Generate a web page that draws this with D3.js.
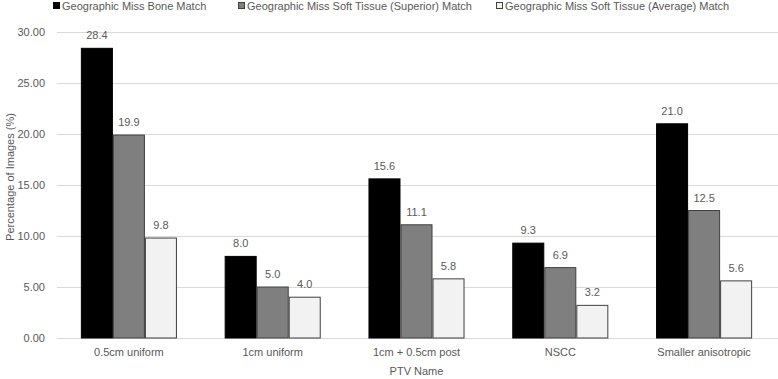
<!DOCTYPE html>
<html>
<head>
<meta charset="utf-8">
<script src="https://cdn.jsdelivr.net/npm/d3@7"></script>
<style>
  body { margin: 0; background: #fff; }
  text { font-family: "Liberation Sans", Arial, sans-serif; fill: #595959; }
</style>
</head>
<body>
<div id="chart"></div>
<script>
// Data
const categories = ["0.5cm uniform", "1cm uniform", "1cm + 0.5cm post", "NSCC", "Smaller anisotropic"];
const seriesNames = [
    "Geographic Miss Bone Match",
    "Geographic Miss Soft Tissue (Superior) Match",
    "Geographic Miss Soft Tissue (Average) Match"
];
const boneMatch = [28.4, 8.0, 15.6, 9.3, 21.0];
const superiorMatch = [19.9, 5.0, 11.1, 6.9, 12.5];
const averageMatch = [9.8, 4.0, 5.8, 3.2, 5.6];
const yTicks = [0, 5, 10, 15, 20, 25, 30];

const seriesValues = [boneMatch, superiorMatch, averageMatch];
const colors = ["#000000", "#7f7f7f", "#f2f2f2"];
const strokes = ["#000000", "#404040", "#404040"];

const width = 778, height = 379;
const margin = { top: 32, right: 2, bottom: 41, left: 57 };

const svg = d3.select("#chart").append("svg")
    .attr("width", width)
    .attr("height", height);

// Scales
const x = d3.scaleBand()
    .domain(categories)
    .range([margin.left, width - margin.right])
    .padding(0);

const groupWidth = x.bandwidth() * 0.668;
const xSub = d3.scaleBand()
    .domain(d3.range(seriesNames.length))
    .range([(x.bandwidth() - groupWidth) / 2, (x.bandwidth() + groupWidth) / 2]);

const y = d3.scaleLinear()
    .domain([0, 30])
    .range([height - margin.bottom, margin.top]);

// Gridlines
svg.append("g")
    .selectAll("line")
    .data(yTicks)
    .join("line")
    .attr("x1", margin.left)
    .attr("x2", width)
    .attr("y1", d => Math.round(y(d)) + 0.5)
    .attr("y2", d => Math.round(y(d)) + 0.5)
    .attr("stroke", "#d9d9d9")
    .attr("stroke-width", 1);

// Y axis labels
const yAxis = d3.axisLeft(y).tickValues(yTicks).tickFormat(d3.format(".2f")).tickSize(0).tickPadding(12);
const yG = svg.append("g")
    .attr("transform", `translate(${margin.left},0)`)
    .call(yAxis);
yG.select(".domain").remove();
yG.selectAll("text").attr("font-size", 11).attr("fill", "#595959")
    .attr("font-family", "Liberation Sans, Arial, sans-serif");

// X axis labels
const xAxis = d3.axisBottom(x).tickSize(0).tickPadding(10);
const xG = svg.append("g")
    .attr("transform", `translate(0,${height - margin.bottom})`)
    .call(xAxis);
xG.select(".domain").remove();
xG.selectAll("text").attr("font-size", 11).attr("fill", "#595959")
    .attr("font-family", "Liberation Sans, Arial, sans-serif");

// Bars
const rows = categories.map((c, i) => ({ cat: c, vals: seriesValues.map(s => s[i]) }));

const groups = svg.append("g")
    .selectAll("g")
    .data(rows)
    .join("g")
    .attr("transform", d => `translate(${x(d.cat)},0)`);

groups.selectAll("rect")
    .data(d => d.vals.map((v, k) => ({ v, k })))
    .join("rect")
    .attr("x", d => xSub(d.k) + 0.5)
    .attr("width", xSub.bandwidth() - 1)
    .attr("y", d => y(d.v))
    .attr("height", d => y(0) - y(d.v))
    .attr("fill", d => colors[d.k])
    .attr("stroke", d => strokes[d.k])
    .attr("stroke-width", 1);

// Value labels
groups.selectAll("text.val")
    .data(d => d.vals.map((v, k) => ({ v, k })))
    .join("text")
    .attr("class", "val")
    .attr("x", d => xSub(d.k) + xSub.bandwidth() / 2)
    .attr("y", d => y(d.v) - 9)
    .attr("text-anchor", "middle")
    .attr("font-size", 11)
    .attr("fill", "#404040")
    .text(d => d3.format(".1f")(d.v));

// Legend
const legendX = [53, 238, 496];
const legend = svg.append("g")
    .selectAll("g")
    .data(seriesNames)
    .join("g")
    .attr("transform", (d, i) => `translate(${legendX[i]},6)`);

legend.append("rect")
    .attr("x", 0.5)
    .attr("y", -3.5)
    .attr("width", 6)
    .attr("height", 6)
    .attr("fill", (d, i) => colors[i])
    .attr("stroke", (d, i) => i === 0 ? "#000" : "#404040");

legend.append("text")
    .attr("x", 9)
    .attr("y", 0)
    .attr("dy", "0.35em")
    .attr("font-size", 11)
    .attr("fill", "#595959")
    .text(d => d);

// Axis titles
svg.append("text")
    .attr("x", (margin.left + width - margin.right) / 2)
    .attr("y", 371)
    .attr("dy", "0.35em")
    .attr("text-anchor", "middle")
    .attr("font-size", 11)
    .text("PTV Name");

svg.append("text")
    .attr("transform", `translate(10,177) rotate(-90)`)
    .attr("text-anchor", "middle")
    .attr("dy", "0.35em")
    .attr("font-size", 11)
    .text("Percentage of Images (%)");
</script>
</body>
</html>
